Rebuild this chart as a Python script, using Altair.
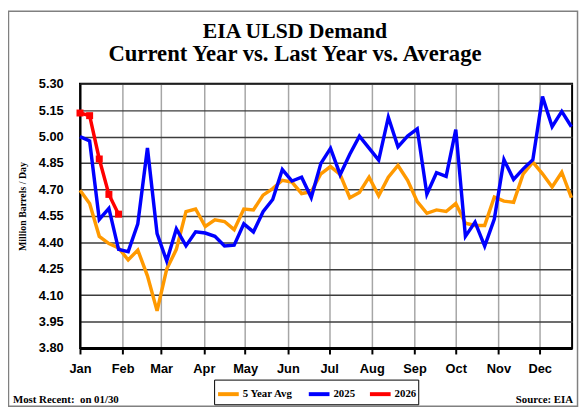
import altair as alt
import pandas as pd

# ---- data ----
months = ["Jan", "Feb", "Mar", "Apr", "May", "Jun", "Jul", "Aug", "Sep", "Oct", "Nov", "Dec"]
month_start_days = [0, 31, 59, 90, 120, 151, 181, 212, 243, 273, 304, 334]
y_ticks = [3.80, 3.95, 4.10, 4.25, 4.40, 4.55, 4.70, 4.85, 5.00, 5.15, 5.30]

week_days = [7 * i for i in range(52)]  # day-of-year of each weekly report

avg5 = [4.696, 4.62, 4.434, 4.393, 4.369, 4.30, 4.356, 4.21, 4.011, 4.248,
        4.36, 4.574, 4.589, 4.49, 4.528, 4.518, 4.472, 4.589, 4.584, 4.668,
        4.705, 4.752, 4.742, 4.677, 4.687, 4.789, 4.83, 4.785, 4.653, 4.683,
        4.77, 4.664, 4.77, 4.836, 4.752, 4.631, 4.565, 4.584, 4.575, 4.62,
        4.508, 4.496, 4.496, 4.657, 4.634, 4.627, 4.789, 4.855, 4.789, 4.714,
        4.798, 4.653]
y2025 = [5.00, 4.975, 4.53, 4.593, 4.36, 4.347, 4.505, 4.935, 4.45, 4.294,
         4.476, 4.38, 4.46, 4.453, 4.434, 4.38, 4.384, 4.505, 4.459, 4.574,
         4.643, 4.813, 4.748, 4.77, 4.654, 4.848, 4.933, 4.784, 4.90, 5.003,
         4.935, 4.867, 5.11, 4.942, 5.003, 5.044, 4.673, 4.795, 4.774, 5.04,
         4.434, 4.515, 4.379, 4.532, 4.869, 4.757, 4.817, 4.869, 5.227, 5.056,
         5.143, 5.056]
y2026 = [5.134, 5.119, 4.873, 4.672, 4.56]

series_names = ["5 Year Avg", "2025", "2026"]
series_colors = ["#FF9900", "#0000FF", "#FF0000"]

title_lines = ["EIA ULSD Demand", "Current Year vs. Last Year vs. Average"]

rows = []
for d, v in zip(week_days, avg5):
    rows.append({"day": d, "value": v, "series": "5 Year Avg"})
for d, v in zip(week_days, y2025):
    rows.append({"day": d, "value": v, "series": "2025"})
for d, v in zip(week_days, y2026):
    rows.append({"day": d, "value": v, "series": "2026"})
df = pd.DataFrame(rows)

W, H = 499, 268

label_expr = "[" + ",".join(f"'{m}'" for m in months) + "][indexof([" + \
    ",".join(str(d) for d in month_start_days) + "], datum.value)]"

x_enc = alt.X("day:Q",
              scale=alt.Scale(domain=[0, 357.5], nice=False, zero=False),
              axis=alt.Axis(values=month_start_days, labelExpr=label_expr, title=None,
                            grid=True, gridColor="#A6A6A6", gridWidth=1.5,
                            domainColor="black", domainWidth=3,
                            tickColor="black", tickWidth=2, tickSize=6,
                            labelFont="Liberation Sans", labelFontWeight="bold",
                            labelFontSize=13, labelColor="black", labelPadding=9,
                            labelFlush=False))
y_enc = alt.Y("value:Q",
              scale=alt.Scale(domain=[3.80, 5.30], nice=False, zero=False),
              axis=alt.Axis(values=y_ticks, format=".2f", title="Million Barrels / Day",
                            grid=True, gridColor="#3C3C3C", gridWidth=1.5,
                            domainColor="black", domainWidth=2, ticks=False,
                            labelFont="Liberation Sans", labelFontWeight="bold",
                            labelFontSize=13, labelColor="black", labelPadding=17,
                            titleFont="Liberation Serif", titleFontWeight="bold",
                            titleFontSize=10, titleColor="black",
                            titleX=-58, titleY=124, titleAngle=270,
                            titleAlign="center", titleBaseline="middle"))

legend = alt.Legend(orient="none", legendX=136, legendY=300, direction="horizontal",
                    title=None, symbolType="stroke", symbolStrokeWidth=4, symbolSize=441,
                    labelFont="Liberation Serif", labelFontWeight="bold", labelFontSize=11,
                    labelColor="black", strokeColor="black", fillColor="white",
                    padding=2, columnPadding=7, labelOffset=2)
color_enc = alt.Color("series:N",
                      scale=alt.Scale(domain=series_names, range=series_colors),
                      legend=legend)

base = alt.Chart(df).encode(x=x_enc, y=y_enc, color=color_enc)

line_avg = base.transform_filter(alt.datum.series == "5 Year Avg").mark_line(strokeWidth=3.5)
line_25 = base.transform_filter(alt.datum.series == "2025").mark_line(strokeWidth=3.5)
line_26 = base.transform_filter(alt.datum.series == "2026").mark_line(strokeWidth=3.5)
pts_26 = base.transform_filter(alt.datum.series == "2026").mark_point(
    shape="square", filled=True, size=50, opacity=1)

notes = pd.DataFrame({"left": ["Most Recent:\u00a0 on 01/30"], "right": ["Source: EIA"],
                      "t1": [title_lines[0]], "t2": [title_lines[1]]})
title_1 = alt.Chart(notes).mark_text(
    align="center", baseline="alphabetic", font="Liberation Serif", fontWeight="bold",
    fontSize=22, color="black").encode(text="t1:N", x=alt.value(218), y=alt.value(-46))
title_2 = alt.Chart(notes).mark_text(
    align="center", baseline="alphabetic", font="Liberation Serif", fontWeight="bold",
    fontSize=23, color="black").encode(text="t2:N", x=alt.value(218), y=alt.value(-23))
note_left = alt.Chart(notes).mark_text(
    align="left", baseline="alphabetic", font="Liberation Serif", fontWeight="bold",
    fontSize=11, color="black").encode(text="left:N", x=alt.value(-68), y=alt.value(324))
note_right = alt.Chart(notes).mark_text(
    align="right", baseline="alphabetic", font="Liberation Serif", fontWeight="bold",
    fontSize=11, color="black").encode(text="right:N", x=alt.value(W + 1), y=alt.value(324))
frame = alt.Chart(notes).mark_rect(fillOpacity=0, stroke="#808080", strokeWidth=1.5).encode(
    x=alt.value(-72.5), x2=alt.value(W + 5.5), y=alt.value(-73.5), y2=alt.value(H + 59))

chart = alt.layer(line_avg, line_25, line_26, pts_26, title_1, title_2,
                  note_left, note_right, frame).properties(
    width=W, height=H,
    autosize=alt.AutoSizeParams(type="none"),
    padding={"left": 73, "top": 74, "right": 7, "bottom": 60},
    background="white"
).configure_view(stroke="black", strokeWidth=2)

chart.save("out.html", embed_options={"renderer": "svg", "actions": False})
